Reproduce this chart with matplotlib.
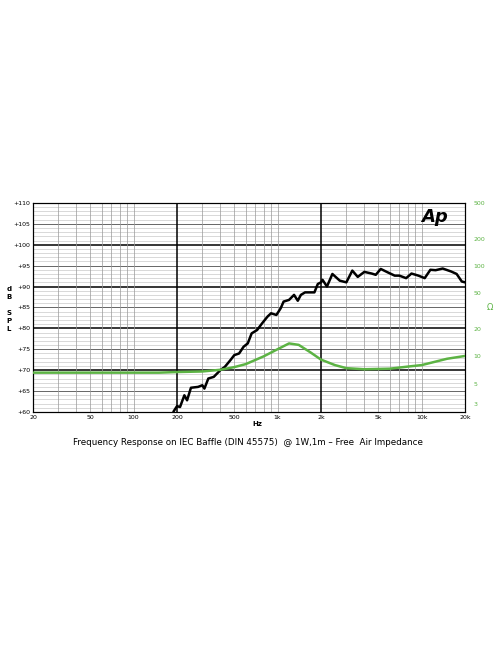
import matplotlib
matplotlib.use("Agg")
import matplotlib.pyplot as plt
import numpy as np

spl_f = [190,200,210,225,235,250,280,300,310,330,360,400,430,470,500,540,580,620,660,720,780,850,900,980,1050,1100,1200,1300,1380,1450,1550,1800,1900,2000,2050,2200,2400,2700,3000,3300,3600,4000,4500,4800,5200,5800,6500,7000,7800,8500,9500,10500,11500,12500,14000,16000,17500,19000,20000]
spl_db = [60.2,61.4,61.2,64,62.8,65.8,66,66.4,65.6,68,68.4,70,70.8,72.4,73.6,74,75.6,76.4,78.8,79.6,81.2,82.8,83.6,83.2,84.8,86.4,86.8,88,86.6,88,88.6,88.6,90.6,91,91.6,90,93,91.4,91,93.8,92.3,93.5,93.1,92.8,94.2,93.4,92.6,92.6,92,93.1,92.6,92,94,93.9,94.3,93.6,93,91.2,91]
imp_f = [20,150,200,300,400,500,600,800,1000,1200,1400,1700,2000,2500,3000,4000,6000,8000,10000,15000,20000]
imp_ohm = [6.6,6.6,6.7,6.8,7.1,7.6,8.2,10,12,13.9,13.4,11,9.2,8,7.4,7.2,7.3,7.7,8,9.4,10.1]
x_ticks = [20,50,100,200,500,1000,2000,5000,10000,20000]
x_labels = ["20","50","100","200","500","1k","2k","5k","10k","20k"]
y_ticks = list(range(60,111,5))
z_ticks = [3,5,10,20,50,100,200,500]

fig = plt.figure(figsize=(4.96,6.64), dpi=100)
ax = fig.add_axes([0.0665,0.3795,0.871,0.315])
ax.set_xscale("log")
ax.set_xlim(20,20000); ax.set_ylim(60,110)
for d in range(61,110):
    if d % 10 == 0:
        ax.axhline(d, color="black", lw=1.1, zorder=1)
    elif d % 5 == 0:
        ax.axhline(d, color="#666666", lw=0.7, zorder=1)
    else:
        ax.axhline(d, color="#bbbbbb", lw=0.4, zorder=1)
for dec in [10,100,1000,10000]:
    for m in range(1,10):
        f = dec*m
        if f <= 20 or f >= 20000: continue
        if f in (200,2000):
            ax.axvline(f, color="black", lw=1.1, zorder=1)
        else:
            ax.axvline(f, color="#999999", lw=0.5, zorder=1)
ax.plot(spl_f, spl_db, color="black", lw=1.8, zorder=3)
ax.set_xticks(x_ticks); ax.set_xticklabels(x_labels, fontsize=4.5)
ax.xaxis.set_minor_locator(matplotlib.ticker.NullLocator())
ax.set_yticks(y_ticks); ax.set_yticklabels(["+%d" % v for v in y_ticks], fontsize=4.5)
ax.tick_params(length=0, pad=2)
for s in ax.spines.values(): s.set_linewidth(0.8)

az = ax.twinx()
az.set_yscale("log"); az.set_ylim(2.42,500)
az.plot(imp_f, imp_ohm, color="#5cb344", lw=1.8, zorder=4)
az.set_yticks(z_ticks); az.set_yticklabels([str(v) for v in z_ticks], fontsize=4.5, color="#5cb344")
az.yaxis.set_minor_locator(matplotlib.ticker.NullLocator())
az.tick_params(length=0, pad=6)

ax.text(0.96,0.93,"Ap", transform=ax.transAxes, fontsize=13, fontweight="bold", style="italic", ha="right", va="center")
fig.text(0.018,0.535,"d\nB\n\nS\nP\nL", fontsize=5, fontweight="bold", ha="center", va="center", linespacing=1.4)
fig.text(0.988,0.537,"Ω", fontsize=6, color="#5cb344", ha="center", va="center")
fig.text(0.518,0.362,"Hz", fontsize=5, fontweight="bold", ha="center", va="center")
fig.text(0.5,0.333,"Frequency Response on IEC Baffle (DIN 45575)  @ 1W,1m – Free  Air Impedance", fontsize=6.3, ha="center", va="center")
fig.savefig("out.png", dpi=100)
